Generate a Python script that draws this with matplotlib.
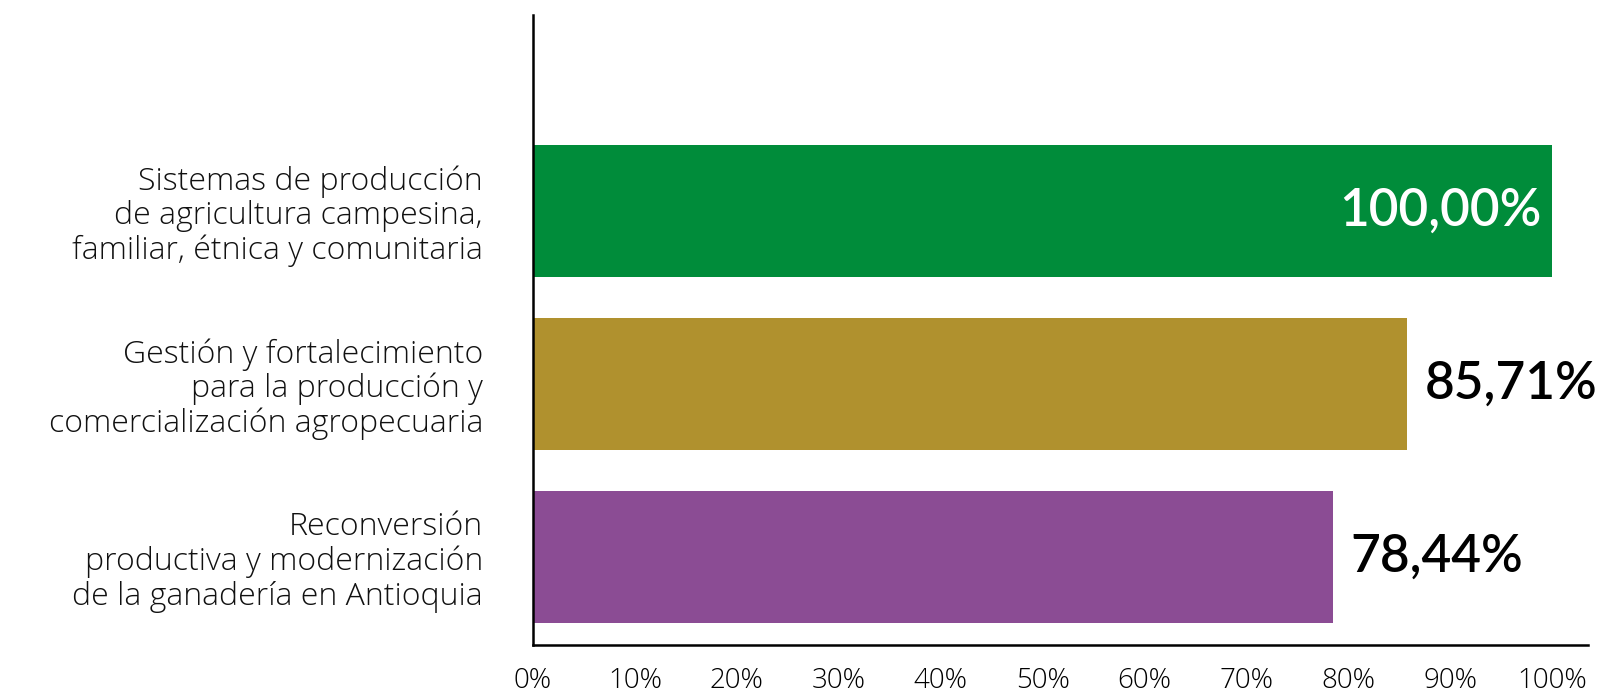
import matplotlib.pyplot as plt

# Datos
categorias = [
    "Sistemas de producción\nde agricultura campesina,\nfamiliar, étnica y comunitaria",
    "Gestión y fortalecimiento\npara la producción y\ncomercialización agropecuaria",
    "Reconversión\nproductiva y modernización\nde la ganadería en Antioquia",
]
valores = [100.00, 85.71, 78.44]
etiquetas = ["100,00%", "85,71%", "78,44%"]
colores = ["#008C3A", "#B0912E", "#8B4C94"]
ticks = [0, 10, 20, 30, 40, 50, 60, 70, 80, 90, 100]
tick_labels = [f"{t}%" for t in ticks]

fig = plt.figure(figsize=(15.99, 6.98), dpi=100)
ax = fig.add_axes([0.3333, 0.0759, 0.6598, 0.9026])

pos = range(len(valores))
ax.barh(pos, valores, height=0.763, color=colores)

# Etiquetas de valor
for i, (v, txt) in enumerate(zip(valores, etiquetas)):
    if v >= 95:
        ax.annotate(txt, (v, i), xytext=(-8, 0), textcoords="offset points",
                    ha="right", va="center", color="white", fontsize=37,
                    family="Lato", weight="semibold")
    else:
        ax.annotate(txt, (v, i), xytext=(13, 0), textcoords="offset points",
                    ha="left", va="center", color="black", fontsize=37,
                    family="Lato", weight="semibold")

ax.set_xlim(0, 103.5)
ax.set_ylim(2.509, -1.133)
ax.set_yticks(list(pos))
ax.set_yticklabels(categorias, fontsize=23, family="Open Sans", weight="light",
                   linespacing=1.1, color="#111111")
ax.set_xticks(ticks)
ax.set_xticklabels(tick_labels, fontsize=20, family="Open Sans", weight="light")
ax.tick_params(axis="y", length=0, pad=36)
ax.tick_params(axis="x", length=0, pad=16)

for s in ["top", "right"]:
    ax.spines[s].set_visible(False)
for s in ["left", "bottom"]:
    ax.spines[s].set_linewidth(1.8)
    ax.spines[s].set_color("black")

fig.savefig("out.png", dpi=100)
